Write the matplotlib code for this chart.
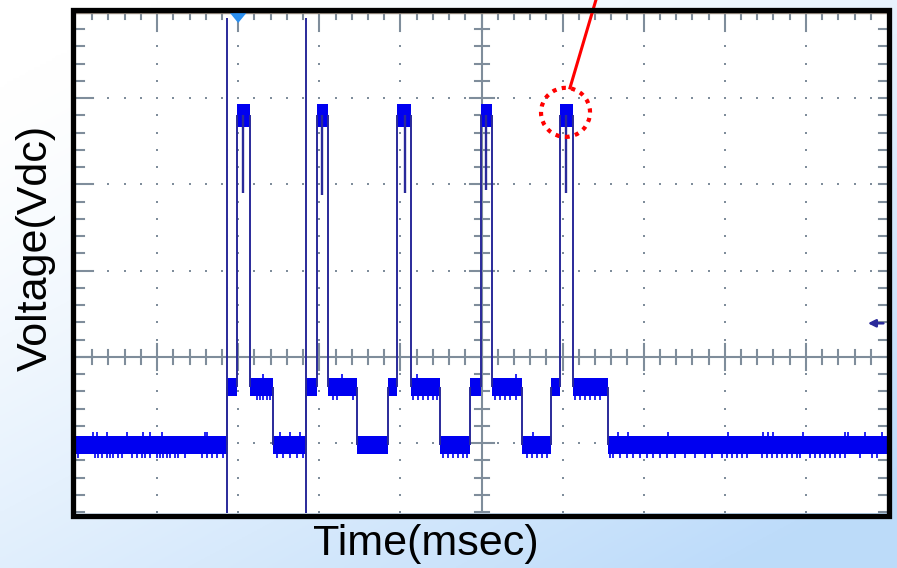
import numpy as np
import matplotlib
matplotlib.use("Agg")
import matplotlib.pyplot as plt
from matplotlib.patches import Ellipse, Rectangle

# ---------------- data (screen divisions) ----------------
# channel 1 (blue) : step trace, start time of each segment and its level
t_edges = [0.0, 1.862, 1.985, 2.146, 2.429, 2.836, 2.972, 3.107, 3.465, 3.847,
           3.958, 4.131, 4.488, 4.858, 4.994, 5.129, 5.499, 5.857, 5.968, 6.128,
           6.560, 10.0]
v_levels = [-1.02, -0.35, 2.80, -0.35, -1.02, -0.35, 2.80, -0.35, -1.02, -0.35,
            2.80, -0.35, -1.02, -0.35, 2.80, -0.35, -1.02, -0.35, 2.80, -0.35,
            -1.02, -1.02]
# narrow dips inside each high pulse
dip_t = [2.059, 3.033, 4.057, 5.055, 6.042]
dip_v = [1.90, 1.88, 1.90, 1.94, 1.90]
# noise glitches sticking out below / above the trace band
glitch_dn_t = [0.02, 0.23, 0.27, 0.32, 0.38, 0.42, 0.46, 0.52, 0.57, 0.69, 0.75,
               0.81, 0.85, 0.91, 1.00, 1.04, 1.07, 1.12, 1.16, 1.22, 1.26, 1.34,
               1.55, 1.62, 1.68, 1.74, 1.81, 2.23, 2.27, 2.31, 2.36, 2.39, 2.48,
               2.55, 2.64, 2.73, 2.80, 3.17, 3.22, 3.42, 4.16, 4.22, 4.28, 4.34,
               4.40, 4.45, 4.53, 4.59, 4.65, 4.71, 4.77, 4.82, 5.17, 5.23, 5.29,
               5.35, 5.42, 5.56, 5.62, 5.68, 5.75, 5.81, 6.15, 6.22, 6.28, 6.34,
               6.40, 6.46, 6.58, 6.62, 6.71, 6.79, 6.87, 6.95, 7.04, 7.11, 7.20,
               7.29, 7.39, 7.51, 7.63, 7.76, 7.84, 7.97, 8.03, 8.09, 8.15, 8.21,
               8.27, 8.46, 8.52, 8.58, 8.64, 8.71, 8.77, 8.83, 8.89, 8.93, 9.05,
               9.11, 9.17, 9.24, 9.30, 9.36, 9.42, 9.48, 9.67, 9.82, 9.88]
glitch_up_t = [0.21, 0.26, 0.38, 0.63, 0.83, 0.91, 1.06, 1.59, 1.62, 2.31, 2.52,
               2.64, 2.76, 3.28, 4.20, 5.43, 5.64, 6.68, 6.81, 7.30, 8.04, 8.47,
               8.53, 8.59, 8.96, 9.48, 9.52, 9.73, 9.94]
# channel 2 (navy) : two vertical strokes
ch2_t = [1.862, 2.836]
ch2_top = 3.93
# trigger position / level markers
trig_t = 2.0
trig_level = 0.39
# callout (red dotted circle + leader line)
callout_center = (6.036, 2.836)
callout_line_t = [6.43, 6.091]
callout_line_v = [4.20, 3.12]

W, H = 897, 568
PXX, PXY = 81.1, 86.2           # pixels per division (x, y)
XMIN, XMAX, YMIN, YMAX = 0.0, 10.0, -1.81, 4.0

BLUE = "#0000f0"
NAVY = "#2a2a9a"
GRID = "#7f8d9b"

fig = plt.figure(figsize=(W / 100, H / 100), dpi=100)

# background gradient
bg = fig.add_axes([0, 0, 1, 1], zorder=-10)
gx, gy = np.meshgrid(np.linspace(0, 1, 300), np.linspace(0, 1, 200))
g = np.clip(0.55 * gx + 0.65 * gy - 0.1, 0, 1) ** 1.3
c0 = np.array([1.0, 1.0, 1.0])
c1 = np.array([0.74, 0.86, 0.98])
img = c0[None, None, :] * (1 - g[..., None]) + c1[None, None, :] * g[..., None]
bg.imshow(img, aspect="auto", extent=[0, 1, 0, 1], origin="upper")
bg.axis("off")

ax = fig.add_axes([76 / W, 1 - 513 / H, 811 / W, 501 / H])
ax.set_facecolor("white")
ax.set_xlim(XMIN, XMAX)
ax.set_ylim(YMIN, YMAX)
ax.set_xticks([])
ax.set_yticks([])
for s in ax.spines.values():
    s.set_visible(False)

# ---------------- graticule ----------------
xs = np.round(np.arange(0.2, 10.0, 0.2), 3)
ys = np.round(np.arange(-1.8, 4.0, 0.2), 3)
for gx_ in [1, 2, 3, 4, 6, 7, 8, 9]:
    ax.scatter(np.full(len(ys), gx_), ys, s=3, marker="s", color=GRID, lw=0, zorder=1)
for gy_ in [3, 2, 1, -1]:
    ax.scatter(xs, np.full(len(xs), gy_), s=3, marker="s", color=GRID, lw=0, zorder=1)

ax.axhline(0, color=GRID, lw=1.5, zorder=1)
ax.axvline(5, color=GRID, lw=1.5, zorder=1)

def is_major(v):
    return abs(v - round(v)) < 1e-6

# crosshair ticks
for x in xs:
    L = (13 if is_major(x) else 7) / PXY
    ax.plot([x, x], [-L, L], color=GRID, lw=1.5, zorder=1)
for y in ys:
    L = (12 if is_major(y) else 7) / PXX
    ax.plot([5 - L, 5 + L], [y, y], color=GRID, lw=1.5, zorder=1)
# border ticks (top, left, right)
for x in xs:
    L = (19 if is_major(x) else 7) / PXY
    ax.plot([x, x], [YMAX, YMAX - L], color=GRID, lw=1.5, zorder=1)
for y in ys:
    L = (17 if is_major(y) else 8) / PXX
    ax.plot([XMIN, XMIN + L], [y, y], color=GRID, lw=1.5, zorder=1)
    ax.plot([XMAX - 8 / PXX, XMAX], [y, y], color=GRID, lw=1.5, zorder=1)
ax.axhline(YMAX - 0.6 / PXY, color="#9c8f84", lw=1.0, zorder=1)

# ---------------- traces ----------------
te = np.array(t_edges)
vl = np.array(v_levels)
hw = np.where(vl > 2, 0.128, 0.106)
ax.fill_between(te, vl - hw, vl + hw, step="post", color=BLUE, lw=0, zorder=3)
# noise glitches
def level_at(t):
    i = np.clip(np.searchsorted(te, t, side="right") - 1, 0, len(vl) - 1)
    return vl[i], hw[i]
gd = np.array(glitch_dn_t)
lv, hh = level_at(gd)
ax.vlines(gd, lv - hh - 0.045, lv - hh + 0.01, color=BLUE, lw=1.2, zorder=3)
gu = np.array(glitch_up_t)
lv, hh = level_at(gu)
ax.vlines(gu, lv + hh - 0.01, lv + hh + 0.045, color=BLUE, lw=1.2, zorder=3)
# vertical transitions
ax.vlines(te[1:-1], vl[:-2], vl[1:-1], color=NAVY, lw=1.4, zorder=4)
# dips within pulses
ax.vlines(dip_t, dip_v, 2.80, color=NAVY, lw=1.7, zorder=4)
# channel 2
ax.vlines(ch2_t, YMIN, ch2_top, color=NAVY, lw=1.4, zorder=4)

# trigger markers
tw, th = 9 / PXX, 11 / PXY
ax.fill([trig_t - tw, trig_t + tw, trig_t], [YMAX, YMAX, YMAX - th],
        color="#2a8ff0", lw=0, zorder=5)
ax.annotate("", xy=(9.73, trig_level), xytext=(9.99, trig_level),
            arrowprops=dict(arrowstyle="-|>", color=NAVY, lw=1.8, mutation_scale=11),
            zorder=5)

# callout
ax.plot(callout_line_t, callout_line_v, color="#ff0000", lw=2.2, clip_on=False, zorder=6)
ax.add_patch(Ellipse(callout_center, width=2 * 24.5 / PXX, height=2 * 24.5 / PXY,
                     fill=False, edgecolor="#ff0000", lw=3.0,
                     linestyle=(0, (1.0, 1.3)), zorder=6))

# frame
fig.patches.append(Rectangle((73 / W, 1 - 515.5 / H), 816 / W, 506 / H,
                             transform=fig.transFigure, fill=False,
                             edgecolor="black", lw=3.8, zorder=10))

# labels
fig.text(36 / W, 1 - 248 / H, "Voltage(Vdc)", rotation=90, ha="center", va="center",
         fontsize=31, family="Liberation Sans")
fig.text(426 / W, 1 - 544 / H, "Time(msec)", ha="center", va="center",
         fontsize=31, family="Liberation Sans")

fig.savefig("out.png", dpi=100)
